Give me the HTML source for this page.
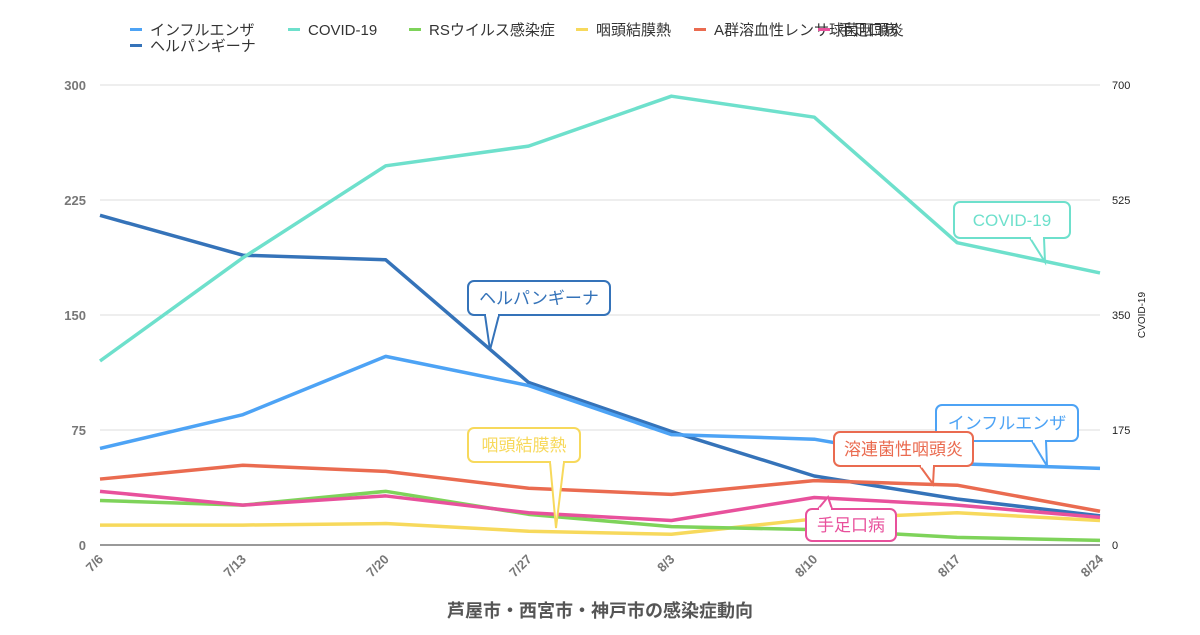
<!DOCTYPE html>
<html><head><meta charset="utf-8"><style>
body{margin:0;background:#fff;font-family:"Liberation Sans","Noto Sans CJK JP",sans-serif}
</style></head><body>
<svg id="chart" width="1200" height="630" xmlns="http://www.w3.org/2000/svg" font-family="Liberation Sans, Noto Sans CJK JP, sans-serif">
<g id="grid"></g><g id="axes"></g><g id="series"></g><g id="callouts"></g><g id="legend"></g>
<text x="600" y="617" text-anchor="middle" font-size="18" font-weight="bold" fill="#555">芦屋市・西宮市・神戸市の感染症動向</text>
<text x="1145" y="315" text-anchor="middle" font-size="10" fill="#222" transform="rotate(-90 1145 315)">CVOID-19</text>
</svg>
<script>
const categories=["7/6","7/13","7/20","7/27","8/3","8/10","8/17","8/24"];
const leftTicks=[0,75,150,225,300];
const rightTicks=[0,175,350,525,700];
const influenza=[63,85,123,104,72,69,53,50];
const covid=[280,437,577,607,683,651,460,414];
const rsv=[29,26,35,20,12,10,5,3];
const pcf=[13,13,14,9,7,17,21,16];
const strep=[43,52,48,37,33,42,39,22];
const hfmd=[35,26,32,21,16,31,26,18];
const herpangina=[215,189,186,106,74,45,30,19];
const NS="http://www.w3.org/2000/svg";
const X0=100,X1=1100,Y0=545,Y1=85;
const xs=i=>X0+i*(X1-X0)/(categories.length-1);
const yl=v=>Y0-v/300*(Y0-Y1);
const yr=v=>Y0-v/700*(Y0-Y1);
function mk(tag,attrs,parent,txt){const e=document.createElementNS(NS,tag);for(const k in attrs)e.setAttribute(k,attrs[k]);if(txt!==undefined)e.textContent=txt;document.getElementById(parent).appendChild(e);return e;}
leftTicks.forEach((t,i)=>{
 const g=mk('line',{x1:X0,x2:X1,y1:yl(t),y2:yl(t),stroke:t===0?'#333':'#ddd','stroke-width':1},'grid');
 
 
 const a=mk('text',{x:86,y:yl(t)+5,'text-anchor':'end','font-size':13,'font-weight':'bold',fill:'#777'},'axes',t);
 
 
});
rightTicks.forEach(t=>{
 const a=mk('text',{x:1112,y:yr(t)+4,'font-size':11,fill:'#222'},'axes',t);
 
 
});
categories.forEach((c,i)=>{
 const x=xs(i);
 const a=mk('text',{x:x+4,y:560,'text-anchor':'end','font-size':13,'font-weight':'bold',fill:'#777',transform:`rotate(-45 ${x+4} 560)`},'axes',c);
 
 
});
const series=[
 {n:'herpangina',d:herpangina,c:'#3573b9',r:false},
 {n:'pcf',d:pcf,c:'#f7d95c',r:false},
 {n:'rsv',d:rsv,c:'#7ed35a',r:false},
 {n:'strep',d:strep,c:'#ea6b50',r:false},
 {n:'hfmd',d:hfmd,c:'#e8519c',r:false},
 {n:'influenza',d:influenza,c:'#4da3f5',r:false},
 {n:'covid',d:covid,c:'#6ee0cc',r:true}];
series.forEach(s=>{
 const pts=s.d.map((v,i)=>xs(i)+','+(s.r?yr(v):yl(v))).join(' ');
 const p=mk('polyline',{points:pts,fill:'none',stroke:s.c,'stroke-width':3.5,'stroke-linejoin':'round'},'series');
 
 
});
const callouts=[
 {t:'COVID-19',c:'#6ee0cc',x:954,y:202,w:116,h:36,tx:1045,ty:262,bx:1030},
 {t:'ヘルパンギーナ',c:'#3573b9',x:468,y:281,w:142,h:34,tx:490,ty:350,bx:485},
 {t:'インフルエンザ',c:'#4da3f5',x:936,y:405,w:142,h:36,tx:1047,ty:466,bx:1032},
 {t:'咽頭結膜熱',c:'#f7d95c',x:468,y:428,w:112,h:34,tx:556,ty:528,bx:550},
 {t:'溶連菌性咽頭炎',c:'#ea6b50',x:834,y:432,w:139,h:34,tx:933,ty:484,bx:920},
 {t:'手足口病',c:'#e8519c',x:806,y:509,w:90,h:32,tx:828,ty:497,bx:818,up:true}];
callouts.forEach(o=>{
 const b=o.up?o.y:o.y+o.h;
 const path=`M${o.bx},${b} L${o.tx},${o.ty} L${o.bx+14},${b}`;
 const r=mk('rect',{x:o.x,y:o.y,width:o.w,height:o.h,rx:6,fill:'#fff',stroke:o.c,'stroke-width':2},'callouts');
 
 
 mk('path',{d:path,fill:'#fff',stroke:o.c,'stroke-width':2},'callouts');
 mk('line',{x1:o.bx+1,x2:o.bx+13,y1:b,y2:b,stroke:'#fff','stroke-width':3},'callouts');
 const t=mk('text',{x:o.x+o.w/2,y:o.y+o.h/2+6,'text-anchor':'middle','font-size':17,fill:o.c},'callouts',o.t);
 
 
});
const legend=[
 {t:'インフルエンザ',c:'#4da3f5',x:130,y:30},
 {t:'COVID-19',c:'#6ee0cc',x:288,y:30},
 {t:'RSウイルス感染症',c:'#7ed35a',x:409,y:30},
 {t:'咽頭結膜熱',c:'#f7d95c',x:576,y:30},
 {t:'A群溶血性レンサ球菌咽頭炎',c:'#ea6b50',x:694,y:30},
 {t:'手足口病',c:'#e8519c',x:818,y:30},
 {t:'ヘルパンギーナ',c:'#3573b9',x:130,y:46}];
legend.forEach(l=>{
 mk('rect',{x:l.x,y:l.y-2,width:12,height:3,fill:l.c},'legend');
 const t=mk('text',{x:l.x+20,y:l.y+5,'font-size':15,fill:'#333'},'legend',l.t);
 
 
});
</script>
</body></html>
